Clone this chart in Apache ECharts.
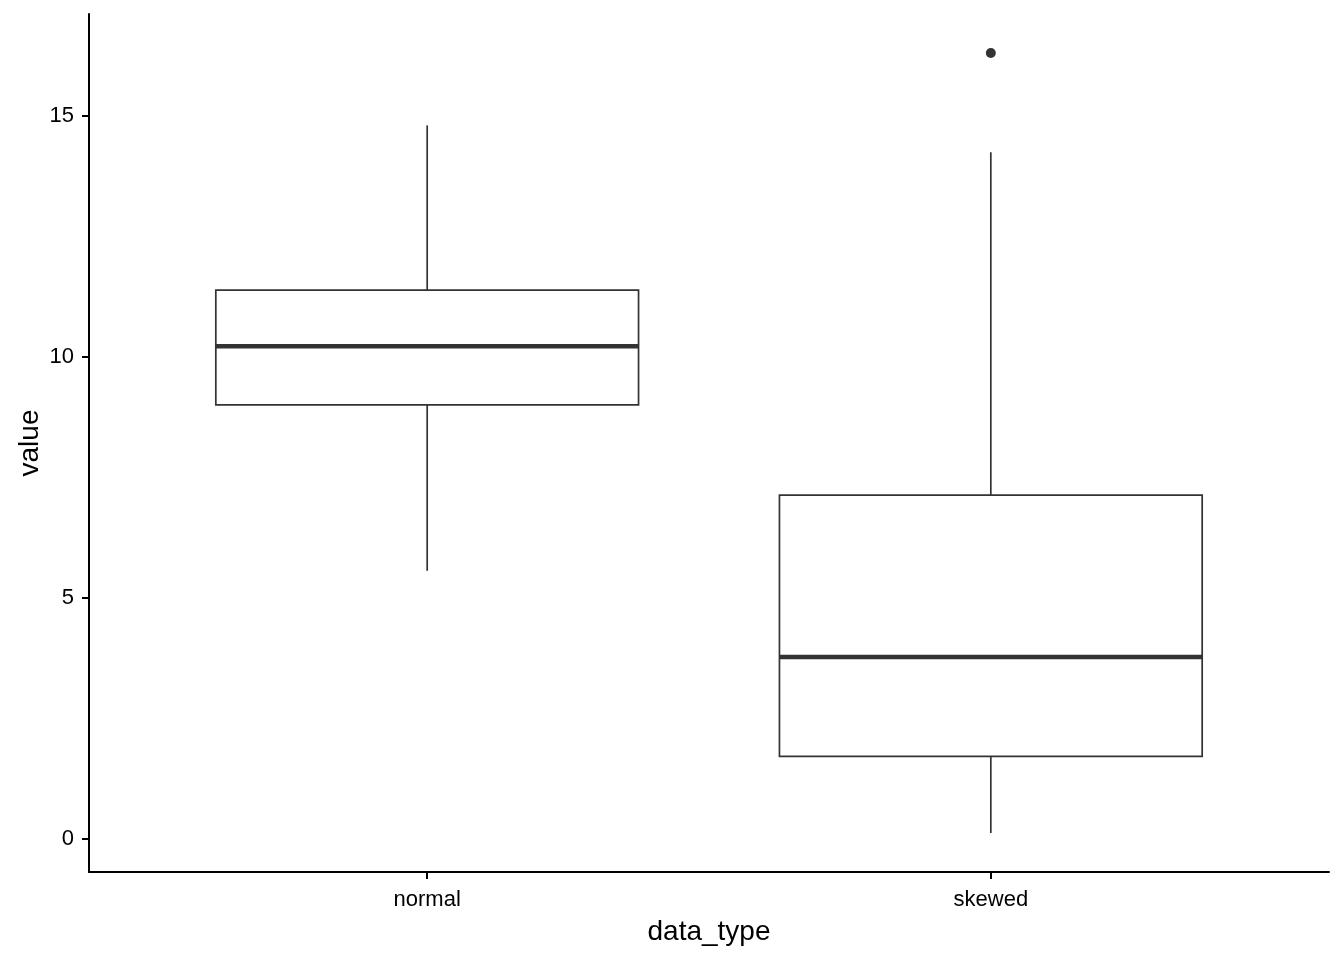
<!DOCTYPE html>
<html>
<head>
<meta charset="utf-8">
<script src="https://cdn.jsdelivr.net/npm/echarts@6/dist/echarts.min.js"></script>
<style>
html,body{margin:0;padding:0;background:#fff;}
#chart{width:1344px;height:960px;}
</style>
</head>
<body>
<div id="chart"></div>
<script>
// Data
const categories = ['normal', 'skewed'];
const lowerWhisker = [5.56, 0.12];
const q1 = [9.00, 1.71];
const median = [10.22, 3.77];
const q3 = [11.38, 7.13];
const upperWhisker = [14.80, 14.24];
const outlierCategory = ['skewed'];
const outlierValue = [16.30];
const yTicks = [0, 5, 10, 15];

const boxData = categories.map((c, i) => [i + 1, lowerWhisker[i], q1[i], median[i], q3[i], upperWhisker[i]]);
const outlierData = outlierCategory.map((c, i) => [categories.indexOf(c) + 1, outlierValue[i]]);

const lineColor = '#333333';
const font = 'Liberation Sans, Arial, sans-serif';

const chart = echarts.init(document.getElementById('chart'), null, {renderer: 'canvas'});
chart.setOption({
  backgroundColor: '#ffffff',
  animation: false,
  grid: {left: 89, right: 15, top: 14, bottom: 88, containLabel: false},
  xAxis: {
    type: 'value',
    min: 0.4,
    max: 2.6,
    name: 'data_type',
    nameLocation: 'middle',
    nameGap: 46,
    nameTextStyle: {fontSize: 28, color: '#000', fontFamily: font},
    splitLine: {show: false},
    axisLine: {show: true, onZero: false, lineStyle: {color: '#000', width: 2}},
    axisTick: {show: true, customValues: [1, 2], length: 7, lineStyle: {color: '#000', width: 2}},
    axisLabel: {
      customValues: [1, 2],
      margin: 17,
      fontSize: 22,
      color: '#000',
      fontFamily: font,
      formatter: v => categories[Math.round(v) - 1] || ''
    }
  },
  yAxis: {
    type: 'value',
    min: -0.689,
    max: 17.11,
    name: 'value',
    nameLocation: 'middle',
    nameRotate: 90,
    nameGap: 45,
    nameMoveOverlap: false,
    nameTextStyle: {fontSize: 28, color: '#000', fontFamily: font},
    splitLine: {show: false},
    axisLine: {show: true, onZero: false, lineStyle: {color: '#000', width: 2}},
    axisTick: {show: true, customValues: yTicks, length: 7, lineStyle: {color: '#000', width: 2}},
    axisLabel: {
      customValues: yTicks,
      margin: 15,
      fontSize: 22,
      color: '#000',
      fontFamily: font
    }
  },
  series: [
    {
      type: 'custom',
      data: boxData,
      encode: {x: 0, y: [1, 2, 3, 4, 5]},
      renderItem: function (params, api) {
        const x = api.value(0);
        const halfW = api.size([0.75, 0])[0] / 2;
        const pLow = api.coord([x, api.value(1)]);
        const pQ1 = api.coord([x, api.value(2)]);
        const pMed = api.coord([x, api.value(3)]);
        const pQ3 = api.coord([x, api.value(4)]);
        const pHigh = api.coord([x, api.value(5)]);
        const cx = pLow[0];
        const lw = 1.7;
        return {
          type: 'group',
          children: [
            {type: 'line', shape: {x1: cx, y1: pLow[1], x2: cx, y2: pQ1[1]}, style: {stroke: lineColor, lineWidth: lw}},
            {type: 'line', shape: {x1: cx, y1: pQ3[1], x2: cx, y2: pHigh[1]}, style: {stroke: lineColor, lineWidth: lw}},
            {type: 'rect', shape: {x: cx - halfW, y: pQ3[1], width: halfW * 2, height: pQ1[1] - pQ3[1]}, style: {fill: '#ffffff', stroke: lineColor, lineWidth: lw}},
            {type: 'line', shape: {x1: cx - halfW, y1: pMed[1], x2: cx + halfW, y2: pMed[1]}, style: {stroke: lineColor, lineWidth: 4.5}}
          ]
        };
      }
    },
    {
      type: 'scatter',
      data: outlierData,
      symbol: 'circle',
      symbolSize: 10,
      itemStyle: {color: lineColor, opacity: 1}
    }
  ]
});
</script>
</body>
</html>
